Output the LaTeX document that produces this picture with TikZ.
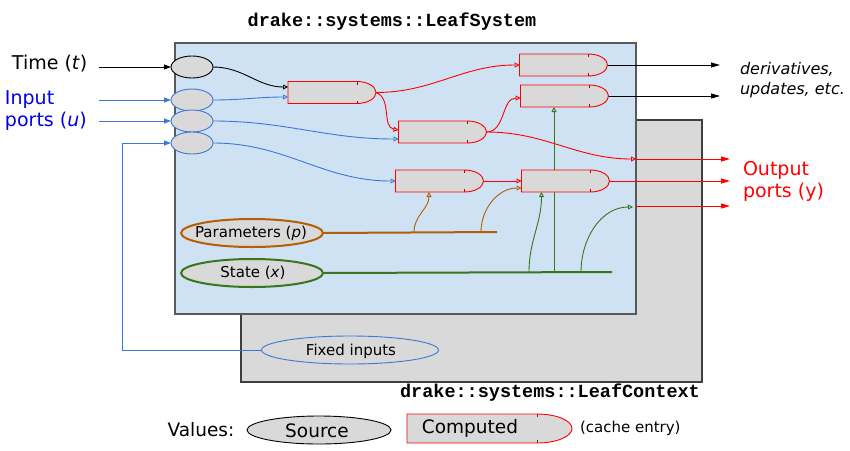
\documentclass[tikz,border=0pt]{standalone}
\usepackage{fontspec}
\setmainfont{DejaVu Sans}
\setmonofont{Liberation Mono}
\usetikzlibrary{arrows.meta,shapes.geometric}
\definecolor{sysblue}{HTML}{CFE2F3}
\definecolor{ctxgray}{HTML}{D9D9D9}
\definecolor{wireblue}{HTML}{3C78D8}
\definecolor{txtblue}{HTML}{0000E6}
\definecolor{brownp}{HTML}{B45F06}
\definecolor{greens}{HTML}{38761D}
\definecolor{edgegray}{HTML}{595959}
\newcommand\drawcacheshape[4]{% name, curve width, control dx, control dy
  \draw[red, fill=ctxgray, line width=0.9pt]
    (#1.north west) -- ([xshift=-#2]#1.north east)
    .. controls ([xshift=-#3]#1.north east) and ([yshift=#4]#1.east) .. (#1.east)
    .. controls ([yshift=-#4]#1.east) and ([xshift=-#3]#1.south east) .. ([xshift=-#2]#1.south east)
    -- (#1.south west) -- cycle;
  \draw[red!75!black, line width=0.8pt]
    ([xshift=-#2]#1.north east) -- ++(0,3) ([xshift=-#2]#1.south east) -- ++(0,-3);
}
\begin{document}
\begin{tikzpicture}[x=1pt,y=-1pt,
  every node/.style={inner sep=0pt, outer sep=0pt},
  srcnode/.style={ellipse, draw, fill=ctxgray, line width=0.9pt, minimum width=42pt, minimum height=22pt},
  cachenode/.style={rectangle, minimum width=88pt, minimum height=22pt},
  bigsrc/.style={ellipse, fill=ctxgray, line width=2pt, minimum width=142pt, minimum height=28pt},
  wire/.style={line width=0.9pt},
  inarrow/.style={-{Triangle[open,length=5pt,width=5pt]}},
  outarrow/.style={-{Triangle[length=9pt,width=5pt]}},
  portarrow/.style={-{Triangle[length=7pt,width=5pt]}},
  lbl/.style={font=\fontsize{19}{22}\selectfont},
  smalltxt/.style={font=\fontsize{15}{18}\selectfont},
]
\fill[white] (0,0) rectangle (850,450);
\useasboundingbox (0,0) rectangle (850,450);
% boxes
\draw[fill=ctxgray, draw=edgegray!70!black, line width=1.3pt] (241,120) rectangle (702,382);
\draw[fill=sysblue, draw=edgegray, line width=1.3pt] (175,43) rectangle (636,314);
% titles
\node (systitle) at (392,22) {\fontsize{18.5}{22}\selectfont\ttfamily\bfseries drake::systems::LeafSystem};
\node (ctxtitle) at (550,393) {\fontsize{18.5}{22}\selectfont\ttfamily\bfseries drake::systems::LeafContext};
% side labels
\node[lbl, anchor=west] (timelbl) at (12,64) {Time (\textit{t})};
\node[lbl, anchor=west, align=left, text=txtblue] (inlbl) at (5,111) {Input\\ports (\textit{u})};
\node[lbl, anchor=west, align=left, text=red] (outlbl) at (743,181) {Output\\ports (y)};
\node[anchor=west, align=left, font=\fontsize{16}{20}\selectfont\itshape] (derivlbl) at (740,80) {derivatives,\\updates, etc.};
% source nodes
\node[srcnode] (t) at (192,67) {};
\node[srcnode, draw=wireblue] (u1) at (192,100) {};
\node[srcnode, draw=wireblue] (u2) at (192,121) {};
\node[srcnode, draw=wireblue] (u3) at (192,143) {};
\node[bigsrc, draw=brownp] (p) at (252,233) {};
\node[smalltxt] (ptxt) at (251,233) {Parameters (\textit{p})};
\node[bigsrc, draw=greens] (s) at (252,273) {};
\node[smalltxt] (stxt) at (253,273) {State (\textit{x})};
\node[ellipse, draw=wireblue, fill=ctxgray, line width=0.9pt, minimum width=177pt, minimum height=28pt] (fi) at (350,350) {};
\node[smalltxt] (fitxt) at (351,351) {Fixed inputs};
% cache nodes
\node[cachenode] (c1) at (332,92.5) {};
\node[cachenode] (c2) at (563.5,65) {};
\node[cachenode] (c3) at (564.5,96) {};
\node[cachenode] (c4) at (442.5,132) {};
\node[cachenode] (c5) at (439.5,181) {};
\node[cachenode] (c6) at (565.5,181) {};
% coordinates
\coordinate (tin) at (99,67);
\coordinate (u1in) at (99,100);
\coordinate (u2in) at (99,121);
\coordinate (fbend) at (122,350);
\coordinate (pend) at (497,232);
\coordinate (pb1) at (414,232);
\coordinate (pb2) at (481,232);
\coordinate (send) at (612,272);
\coordinate (sb1) at (529,272);
\coordinate (sb2) at (554,272);
\coordinate (sb3) at (581,272);
\coordinate (o1) at (636,159);
\coordinate (o1end) at (730,159);
\coordinate (o2end) at (730,181);
\coordinate (o3) at (633,207);
\coordinate (o3s) at (636,206);
\coordinate (o3end) at (730,206);
\coordinate (d1end) at (720,65);
\coordinate (d2end) at (720,96);
% state line behind cache entries
\draw[greens, wire, inarrow] (sb2) -- ([xshift=-10.5pt]c3.south);
% cache shapes
\foreach \n in {c1,c2,c3,c4,c5,c6}{\drawcacheshape{\n}{19pt}{8.5pt}{6pt}}
% inputs
\draw[wire, portarrow] (tin) -- (t.west);
\draw[wire, portarrow, wireblue] (u1in) -- (u1.west);
\draw[wire, portarrow, wireblue] (u2in) -- (u2.west);
\draw[wire, portarrow, wireblue] (fi.west) -- (fbend) |- (u3.west);
% internal wires
\draw[wire, inarrow] (t.east) to[out=0,in=180] ([yshift=5.5pt]c1.west);
\draw[wire, inarrow, wireblue] (u1.east) to[out=0,in=180] ([yshift=-4.5pt]c1.west);
\draw[wire, inarrow, wireblue] (u2.east) to[out=0,in=180] ([yshift=-7pt]c4.west);
\draw[wire, inarrow, wireblue] (u3.east) to[out=0,in=180] (c5.west);
\draw[wire, inarrow, red] (c1.east) to[out=0,in=180] (c2.west);
\draw[wire, inarrow, red] (c1.east) to[out=-20,in=170] ([yshift=2pt]c4.west);
\draw[wire, inarrow, red] (c4.east) to[out=0,in=180] ([yshift=-2pt]c3.west);
\draw[wire, inarrow, red] (c4.east) to[out=0,in=180] (o1);
\draw[wire, inarrow, red] (c5.east) -- (c6.west);
% outputs
\draw[wire, outarrow] (c2.east) -- (d1end);
\draw[wire, outarrow] (c3.east) -- (d2end);
\draw[wire, outarrow, red] (o1) -- (o1end);
\draw[wire, outarrow, red] (c6.east) -- (o2end);
\draw[wire, outarrow, red] (o3s) -- (o3end);
% parameters
\draw[brownp, line width=2pt] (p.east) -- (pend);
\draw[brownp, wire, inarrow] (pb1) to[out=90,in=-90] ([xshift=-10.5pt]c5.south);
\draw[brownp, wire, inarrow] (pb2) to[out=90,in=180] ([yshift=-7pt]c6.west);
% state
\draw[greens, line width=2pt] (s.east) -- (send);
\draw[greens, wire, inarrow] (sb1) to[out=90,in=-90] ([xshift=-24pt]c6.south);
\draw[greens, wire, inarrow] (sb3) to[out=90,in=180] (o3);
% legend
\node[font=\fontsize{18.5}{22}\selectfont] (vals) at (201,430) {Values:};
\node[ellipse, draw, fill=ctxgray, line width=0.9pt, minimum width=144pt, minimum height=28pt] (lsrc) at (319,430) {};
\node[font=\fontsize{18.5}{22}\selectfont] (lsrctxt) at (317,431) {Source};
\node[rectangle, minimum width=165pt, minimum height=29pt] (lcomp) at (489.5,428.5) {};
\drawcacheshape{lcomp}{35pt}{15.7pt}{8pt}
\node[font=\fontsize{18.5}{22}\selectfont] (lcomptxt) at (470,428) {Computed};
\node[anchor=west, font=\fontsize{15}{18}\selectfont] (lnote) at (580,428) {(cache entry)};
\end{tikzpicture}
\end{document}
